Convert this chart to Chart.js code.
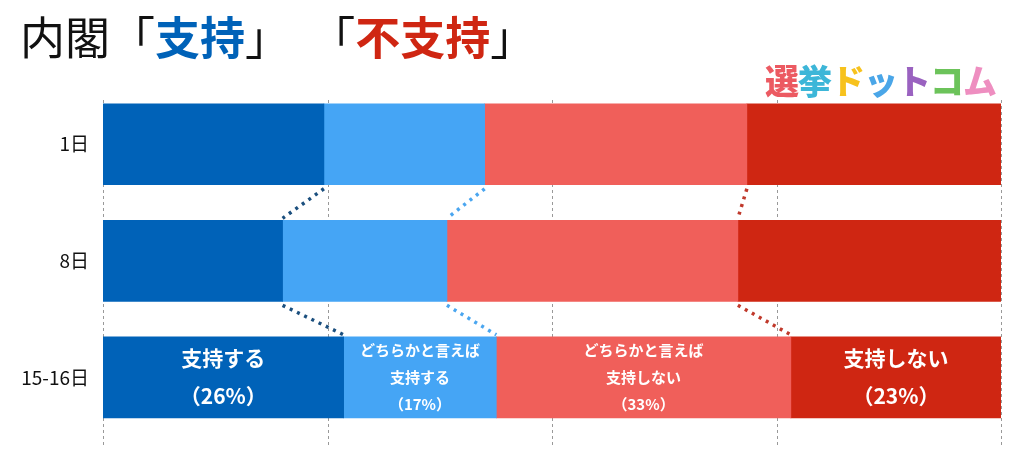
<!DOCTYPE html>
<html><head><meta charset="utf-8">
<script src="https://cdn.jsdelivr.net/npm/chart.js@4"></script>
<style>
body{margin:0;background:#fff;width:1020px;height:453px;overflow:hidden;font-family:"Noto Sans CJK JP",sans-serif}
#t{position:absolute;left:20px;top:3px;font-size:45px;color:#111;white-space:nowrap}
#logo{position:absolute;left:765px;top:55px;font-size:34px;font-weight:900;letter-spacing:-1px}
#c{position:absolute;left:0;top:0;width:1020px;height:453px}
</style></head><body>
<canvas id="c" width="1020" height="453"></canvas>
<div id="t">内閣「<b style="color:#0062b8">支持</b>」&nbsp;&nbsp;「<b style="color:#cf2612">不支持</b>」</div>
<div id="logo"><span style="color:#ec5a62">選</span><span style="color:#3db6d8">挙</span><span style="color:#f7c21d">ド</span><span style="color:#4aa6e8">ッ</span><span style="color:#9a62c0">ト</span><span style="color:#6cc35a">コ</span><span style="color:#ee8ec0">ム</span></div>
<script>
const categories=["1日","8日","15-16日"];
const seriesNames=["支持する","どちらかと言えば支持する","どちらかと言えば支持しない","支持しない"];
const support=[24.6,20.0,26.8];
const leanSupport=[17.9,18.3,17.0];
const leanOppose=[29.2,32.4,32.8];
const oppose=[28.3,29.3,23.4];
const lastLabels=[["支持する","（26%）"],["どちらかと言えば","支持する","（17%）"],["どちらかと言えば","支持しない","（33%）"],["支持しない","（23%）"]];
const colors=["#0062b8","#45a5f5","#f05f5a","#cf2612"];
const connColors=["#1b4f7e","#4aa6f0","#c0392b"];
const xTicks=[0,25,50,75,100];
const all=[support,leanSupport,leanOppose,oppose];
const plug={id:'p',
beforeDatasetsDraw(ch){const x=ch.scales.x,c=ch.ctx;c.save();c.strokeStyle='#999';c.lineWidth=1;c.setLineDash([3,3]);
xTicks.forEach(v=>{const px=Math.round(x.getPixelForValue(v))+0.5;c.beginPath();c.moveTo(px,100);c.lineTo(px,445);c.stroke();});c.restore();},
afterDatasetsDraw(ch){const c=ch.ctx;c.save();
for(let s=0;s<3;s++){c.strokeStyle=connColors[s];c.lineWidth=3.5;c.setLineDash([3,5]);
for(let i=0;i<2;i++){const a=ch.getDatasetMeta(s).data[i],b=ch.getDatasetMeta(s).data[i+1];
c.beginPath();c.moveTo(a.x,a.y+a.height/2+4);c.lineTo(b.x,b.y-b.height/2-2);c.stroke();}}
c.setLineDash([]);c.fillStyle='#fff';c.textAlign='center';c.textBaseline='middle';
for(let s=0;s<4;s++){const el=ch.getDatasetMeta(s).data[2];const cx=(el.x+el.base)/2;const L=lastLabels[s];
const big=(s==0||s==3);c.font=(big?'bold 21px':'bold 15px')+' "Noto Sans CJK JP"';const lh=big?38:27;
L.forEach((t,k)=>c.fillText(t,cx,el.y+(k-(L.length-1)/2)*lh));}
c.restore();}};
new Chart(document.getElementById('c'),{type:'bar',
data:{labels:categories,datasets:all.map((d,i)=>({label:seriesNames[i],data:d,backgroundColor:colors[i],barThickness:81}))},
options:{indexAxis:'y',responsive:false,maintainAspectRatio:false,animation:false,devicePixelRatio:1,
layout:{padding:{top:86,right:19,bottom:9,left:0}},
plugins:{legend:{display:false},tooltip:{enabled:false}},
scales:{x:{stacked:true,min:0,max:100,display:true,ticks:{display:false},grid:{display:false},border:{display:false},afterFit(s){s.height=0;}},
y:{stacked:true,grid:{display:false},border:{display:false},afterFit(s){s.width=103;},
ticks:{color:'#111',font:{size:19,family:'"Noto Sans CJK JP"'},padding:6}}}},
plugins:[plug]});
</script></body></html>
